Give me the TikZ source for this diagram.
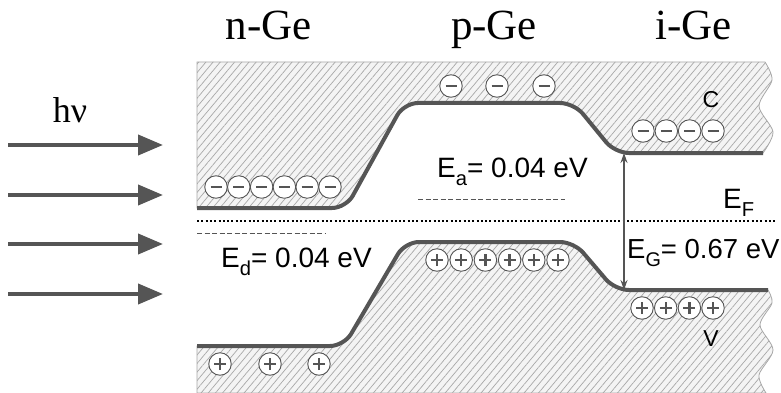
\documentclass[tikz,border=0pt]{standalone}
\usepackage{fontspec}
\setmainfont{Liberation Serif}
\setsansfont{Liberation Sans}
\usetikzlibrary{arrows.meta,patterns.meta}
\definecolor{band}{HTML}{555555}
\definecolor{hatch}{HTML}{A8A8A8}
\definecolor{bgfill}{HTML}{F4F4F4}
\newcommand\lowsub[1]{\raisebox{-0.32em}{\scalebox{0.72}{#1}}}
\begin{document}
\begin{tikzpicture}[x=1pt,y=-1pt,
  region/.style={draw=hatch,line width=0.8pt,preaction={fill=bgfill},
    pattern={Lines[angle=50,distance=5.5pt,line width=0.7pt]},pattern color=hatch},
  bandline/.style={draw=band,line width=4pt,rounded corners=14pt},
  carrier/.style={circle,draw=band,line width=0.9pt,fill=white,inner sep=0pt,minimum size=22.5pt},
  electron/.style={carrier,path picture={\draw[band,line width=2.8pt]
    ([xshift=-5.5pt]path picture bounding box.center) -- ([xshift=5.5pt]path picture bounding box.center);}},
  hole/.style={carrier,path picture={\draw[band,line width=2.4pt]
    ([xshift=-6pt]path picture bounding box.center) -- ([xshift=6pt]path picture bounding box.center)
    ([yshift=-6pt]path picture bounding box.center) -- ([yshift=6pt]path picture bounding box.center);}},
  title/.style={font=\fontsize{43}{45}\selectfont,anchor=base,inner sep=0pt},
  elabel/.style={font=\sffamily\fontsize{28}{30}\selectfont,anchor=base west,inner sep=0pt},
  bandname/.style={font=\sffamily\fontsize{23}{25}\selectfont,inner sep=0pt},
  photon/.style={band,line width=4pt,-{Triangle[length=25pt,width=20pt]}},
  fermi/.style={black,line width=2.2pt,dash pattern=on 2pt off 2.3pt},
  level/.style={band,line width=1pt,dash pattern=on 5pt off 2.5pt},
  gap/.style={band,line width=1.3pt,{Stealth[length=10pt,width=7pt]}-{Stealth[length=10pt,width=7pt]}},
]
\useasboundingbox (0,0) rectangle (781,393);
% hatched regions
\path[region] (197,62) -- (197,208) [rounded corners=14pt] -- (346,208) -- (404,103) -- (574,103)
  -- (615,153) [sharp corners] -- (763,153)
  -- plot[smooth] coordinates {(763,153) (773,132) (759,106) (772,80) (765,62)} -- cycle;
\path[region] (197,393) -- (197,346) [rounded corners=14pt] -- (344,346) -- (405,242) -- (574,242)
  -- (615,290) [sharp corners] -- (768,290)
  -- plot[smooth] coordinates {(768,290) (772,303) (760,325) (773,350) (759,375) (766,393)} -- cycle;
% band edges
\draw[bandline] (197,208) -- (346,208) -- (404,103) -- (574,103) -- (615,153) -- (763,153);
\draw[bandline] (197,346) -- (344,346) -- (405,242) -- (574,242) -- (615,290) -- (768,290);
% Fermi level and impurity levels
\coordinate (efL) at (197,221);
\coordinate (efR) at (775,221);
\draw[fermi] (efL) -- (efR);
\coordinate (eaL) at (418,199);
\coordinate (eaR) at (565,199);
\draw[level] (eaL) -- (eaR);
\coordinate (edL) at (197,233);
\coordinate (edR) at (325,233);
\draw[level] (edL) -- (edR);
% gap arrow
\coordinate (gT) at (624,153);
\coordinate (gB) at (624,290);
\draw[gap] (gT) -- (gB);
% electrons
\foreach \x [count=\i] in {216,238.8,261.6,284.4,307.2,330} \node[electron] (en\i) at (\x,187) {};
\foreach \x [count=\i] in {451,497,544} \node[electron] (ep\i) at (\x,86) {};
\foreach \x [count=\i] in {643,666.3,689.6,713} \node[electron] (ei\i) at (\x,131) {};
% holes
\foreach \x [count=\i] in {220,270,319} \node[hole] (hn\i) at (\x,364) {};
\foreach \x [count=\i] in {437,461.2,485.4,509.6,533.8,558} \node[hole] (hp\i) at (\x,260) {};
\foreach \x [count=\i] in {642,665.7,689.4,713} \node[hole] (hi\i) at (\x,308) {};
% labels
\node[title] (tn) at (268.5,39.5) {n-Ge};
\node[title] (tp) at (494,39.5) {p-Ge};
\node[title] (ti) at (693.5,39.5) {i-Ge};
\node[title,font=\fontsize{36}{38}\selectfont] (hv) at (70,122) {hν};
\node[elabel] (ea) at (437,177) {E\lowsub{a}= 0.04 eV};
\node[elabel] (ed) at (221,267) {E\lowsub{d}= 0.04 eV};
\node[elabel] (ef) at (723,208) {E\lowsub{F}};
\node[elabel,font=\sffamily\fontsize{27.5}{30}\selectfont] (eg) at (627,258) {E\lowsub{G}= 0.67 eV};
\node[bandname] (cb) at (711,100) {C};
\node[bandname] (vb) at (711,339) {V};
% photons
\foreach \y [count=\i] in {145,195,244,294} {
  \coordinate (ps\i) at (8,\y);
  \coordinate (pe\i) at (163,\y);
  \draw[photon] (ps\i) -- (pe\i);
}
\end{tikzpicture}
\end{document}
